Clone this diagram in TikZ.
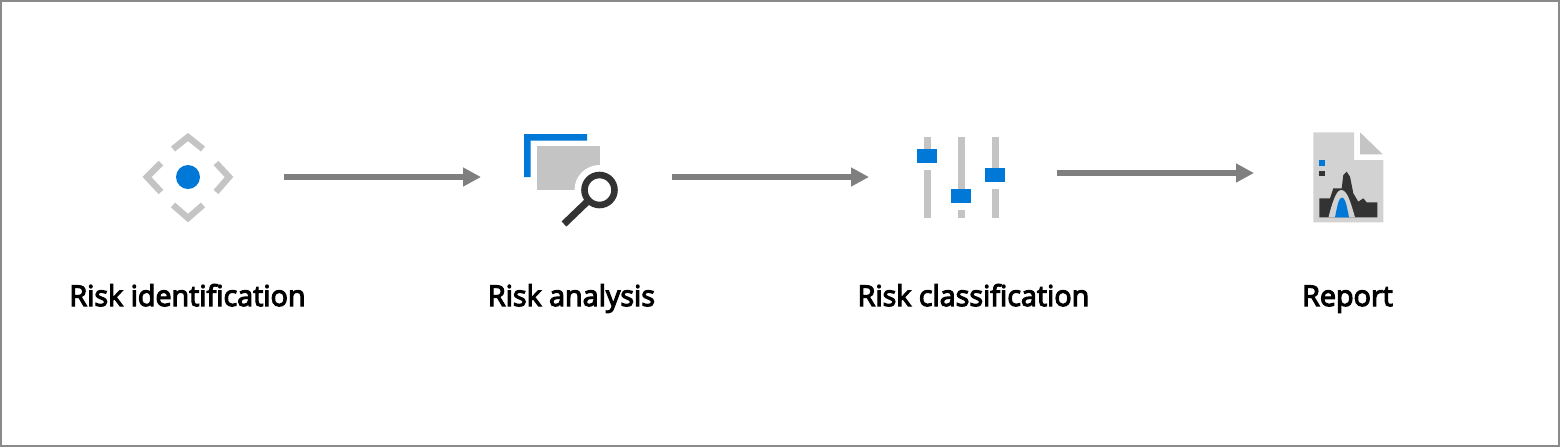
\documentclass[tikz,border=0pt]{standalone}
\usepackage{fontspec}
\newfontfamily\labelfont{Open Sans}[FakeBold=4]
\usepackage{xcolor}
\usetikzlibrary{arrows.meta}
\definecolor{paleGray}{HTML}{C4C4C4}
\definecolor{pageGray}{HTML}{D2D2D2}
\definecolor{iconBlue}{HTML}{0078D7}
\definecolor{iconDark}{HTML}{333333}
\definecolor{arrowGray}{HTML}{7F7F7F}
\definecolor{frameGray}{HTML}{8A8A8A}
\begin{document}
\begin{tikzpicture}[
    x=0.5pt, y=-0.5pt,
    steplabel/.style={inner sep=0pt, anchor=base, text=black, font=\labelfont\fontsize{14.35pt}{16pt}\selectfont},
    flow/.style={draw=arrowGray, line width=3pt, -{Triangle[length=9pt,width=9pt]}},
    chevron/.style={draw=paleGray, line width=3.2pt, line cap=butt, line join=miter},
    track/.style={fill=paleGray},
    knob/.style={fill=iconBlue}
]
\useasboundingbox (0,0) rectangle (1560,447);
\draw[frameGray, line width=1pt] (1,1) rectangle (1559,446);
% first icon
\draw[chevron] (173,149) -- (188,137) -- (203,149);
\draw[chevron] (161,163) -- (147,177) -- (161,192);
\draw[chevron] (216,163) -- (229,177) -- (216,192);
\draw[chevron] (173,205) -- (188,218) -- (203,205);
\fill[iconBlue] (188,177) circle (6pt);
% second icon
\fill[iconBlue] (524,134) -- (587,134) -- (587,140.5) -- (530.5,140.5) -- (530.5,177) -- (524,177) -- cycle;
\fill[paleGray] (536.5,146) rectangle (599.5,190);
\fill[white] (599.5,190) circle (12.5pt);
\draw[iconDark, line width=3.3pt] (599.5,190) circle (7.5pt);
\draw[iconDark, line width=3.5pt] (589,200) -- (564,224);
% third icon
\fill[track] (923.8,137.3) rectangle (930.8,149);
\fill[track] (923.8,170) rectangle (930.8,217.7);
\fill[knob] (917.3,149) rectangle (937.3,163);
\fill[track] (957.5,137.3) rectangle (964.5,189);
\fill[track] (957.5,210) rectangle (964.5,217.7);
\fill[knob] (951,189) rectangle (971.3,203);
\fill[track] (991.5,137.3) rectangle (998.5,168.3);
\fill[track] (991.5,189.3) rectangle (998.5,217.7);
\fill[knob] (985,168.3) rectangle (1005.3,182.3);
% fourth icon
\fill[pageGray] (1313.3,132.3) -- (1354,132.3) -- (1354,160) -- (1383.3,160) -- (1383.3,222.3) -- (1313.3,222.3) -- cycle;
\fill[paleGray] (1360,132.3) -- (1382.7,154.3) -- (1360,154.3) -- cycle;
\fill[iconBlue] (1319.3,160) rectangle (1325.3,165.7);
\fill[iconDark] (1319.3,170.7) rectangle (1325.3,176.3);
\fill[iconDark] (1319.3,217.3) -- (1319.3,198.3) -- (1330,198.3) -- (1333.3,188.3) -- (1341.7,188.3) -- (1343.3,175) -- (1346.7,171.7) -- (1350,176.7) -- (1353.3,193.3) -- (1358.3,201.7) -- (1363.3,198.3) -- (1366.7,202.3) -- (1377.3,202.3) -- (1377.3,217.3) -- cycle;
\fill[pageGray] (1328.5,217.3) .. controls (1334,195) and (1338,190) .. (1341,190) .. controls (1347,190) and (1350,200) .. (1355,217.3) -- cycle;
\fill[iconBlue] (1335,217.3) .. controls (1338,202) and (1339,198) .. (1342,197.5) .. controls (1345,198) and (1346,202) .. (1349,217.3) -- cycle;
% labels
\node[steplabel] (identification) at (187.5,306) {Risk identification};
\node[steplabel] (analysis) at (571.5,306) {Risk analysis};
\node[steplabel] (classification) at (973.5,306) {Risk classification};
\node[steplabel] (report) at (1347.5,306) {Report};
% arrows
\coordinate (flowA) at (284,177);
\coordinate (flowB) at (481,177);
\coordinate (flowC) at (672,177);
\coordinate (flowD) at (869,177);
\coordinate (flowE) at (1057,173);
\coordinate (flowF) at (1254,173);
\draw[flow] (flowA) -- (flowB);
\draw[flow] (flowC) -- (flowD);
\draw[flow] (flowE) -- (flowF);
\end{tikzpicture}
\end{document}
